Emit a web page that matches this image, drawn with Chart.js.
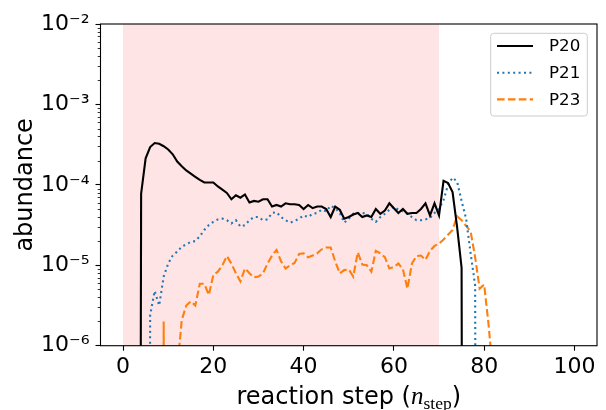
<!DOCTYPE html>
<html><head><meta charset="utf-8">
<script src="https://cdn.jsdelivr.net/npm/chart.js@4"></script>
<style>html,body{margin:0;padding:0;background:#fff;}canvas{display:block;}</style>
</head><body>
<canvas id="c" width="606" height="410"></canvas>
<script>
// ---------------- data ----------------
const STEPS = Array.from({length: 101}, (_, i) => i);
const P20 = [
  0, 0, 0, 0, 7.76e-5, 2.14e-4, 2.95e-4, 3.31e-4, 3.24e-4, 3.02e-4,
  2.75e-4, 2.40e-4, 1.95e-4, 1.70e-4, 1.51e-4, 1.38e-4, 1.26e-4, 1.15e-4, 1.07e-4, 1.07e-4,
  1.07e-4, 9.55e-5, 8.71e-5, 7.94e-5, 6.61e-5, 7.41e-5, 6.92e-5, 7.59e-5, 6.03e-5, 6.31e-5,
  6.17e-5, 6.61e-5, 6.61e-5, 5.37e-5, 5.62e-5, 5.37e-5, 5.89e-5, 5.75e-5, 5.75e-5, 5.62e-5,
  5.01e-5, 5.62e-5, 5.13e-5, 5.37e-5, 5.37e-5, 5.01e-5, 3.98e-5, 5.37e-5, 4.90e-5, 3.80e-5,
  3.98e-5, 4.27e-5, 4.47e-5, 3.98e-5, 4.17e-5, 3.98e-5, 5.01e-5, 4.37e-5, 4.79e-5, 5.89e-5,
  5.13e-5, 4.47e-5, 5.01e-5, 4.37e-5, 4.47e-5, 4.47e-5, 5.01e-5, 5.89e-5, 4.17e-5, 5.89e-5,
  4.17e-5, 1.12e-4, 1.05e-4, 8.13e-5, 3.00e-5, 9.33e-6, 0, 0, 0, 0,
  0, 0, 0, 0, 0, 0, 0, 0, 0, 0,
  0, 0, 0, 0, 0, 0, 0, 0, 0, 0, 0
];
const P21 = [
  0, 0, 0, 0, 0, 0, 2.40e-6, 4.79e-6, 3.16e-6, 7.24e-6,
  1.05e-5, 1.32e-5, 1.48e-5, 1.70e-5, 1.82e-5, 1.95e-5, 2.00e-5, 2.29e-5, 2.75e-5, 3.16e-5,
  3.47e-5, 3.72e-5, 3.80e-5, 3.63e-5, 3.31e-5, 3.63e-5, 3.02e-5, 3.16e-5, 3.63e-5, 3.98e-5,
  3.98e-5, 3.63e-5, 3.72e-5, 4.47e-5, 4.57e-5, 3.98e-5, 3.63e-5, 3.39e-5, 3.55e-5, 3.80e-5,
  4.17e-5, 3.98e-5, 4.37e-5, 4.47e-5, 4.90e-5, 4.68e-5, 5.50e-5, 5.13e-5, 4.47e-5, 3.39e-5,
  3.80e-5, 4.37e-5, 4.47e-5, 4.47e-5, 4.37e-5, 3.80e-5, 3.47e-5, 3.98e-5, 4.37e-5, 4.90e-5,
  5.37e-5, 4.90e-5, 4.68e-5, 4.37e-5, 3.98e-5, 3.63e-5, 3.63e-5, 3.72e-5, 3.89e-5, 4.47e-5,
  5.01e-5, 6.46e-5, 1.00e-4, 1.23e-4, 1.10e-4, 6.31e-5, 3.80e-5, 1.41e-5, 5.62e-6, 0,
  0, 0, 0, 0, 0, 0, 0, 0, 0, 0,
  0, 0, 0, 0, 0, 0, 0, 0, 0, 0, 0
];
const P23 = [
  0, 0, 0, 0, 0, 0, 0, 0, 0, 2.00e-6,
  0, 0, 5.01e-7, 2.09e-6, 3.16e-6, 3.55e-6, 3.16e-6, 5.89e-6, 5.89e-6, 4.27e-6,
  7.59e-6, 8.32e-6, 1.00e-5, 1.30e-5, 1.05e-5, 7.94e-6, 6.31e-6, 9.12e-6, 7.94e-6, 7.08e-6,
  7.24e-6, 7.94e-6, 1.05e-5, 1.32e-5, 1.55e-5, 1.12e-5, 9.12e-6, 1.00e-5, 1.07e-5, 1.38e-5,
  1.41e-5, 1.26e-5, 1.32e-5, 1.41e-5, 1.58e-5, 1.66e-5, 1.66e-5, 1.12e-5, 7.94e-6, 8.71e-6,
  8.91e-6, 7.24e-6, 1.45e-5, 1.02e-5, 1.00e-5, 8.32e-6, 1.51e-5, 1.41e-5, 1.26e-5, 9.12e-6,
  9.55e-6, 1.05e-5, 8.91e-6, 5.13e-6, 1.05e-5, 1.30e-5, 1.32e-5, 1.17e-5, 1.51e-5, 1.74e-5,
  1.86e-5, 2.09e-5, 2.40e-5, 2.75e-5, 4.07e-5, 3.63e-5, 3.09e-5, 2.63e-5, 1.26e-5, 5.13e-6,
  5.75e-6, 1.78e-6, 3.98e-7, 0, 0, 0, 0, 0, 0, 0,
  0, 0, 0, 0, 0, 0, 0, 0, 0, 0, 0
];
const SERIES_NAMES = ['P20', 'P21', 'P23'];
const X_TICKS = [0, 20, 40, 60, 80, 100];
const Y_TICKS = [1e-6, 1e-5, 1e-4, 1e-3, 1e-2];
const Y_TICK_LABELS = ['10\u207B\u2076', '10\u207B\u2075', '10\u207B\u2074', '10\u207B\u00B3', '10\u207B\u00B2'];
const Y_MINOR_MULTS = [2, 3, 4, 5, 6, 7, 8, 9];
const SHADE_RANGE = [0, 70];
const X_TITLE_PARTS = ['reaction step (', 'n', 'step', ')'];
const Y_TITLE = 'abundance';

// ---------------- styling ----------------
const SANS = "'DejaVu Sans', sans-serif";
const SERIF = "'Liberation Serif', 'DejaVu Serif', serif";
const CLIP_FLOOR = 1e-30; // non-positive values clipped far below axis (log scale)
const STYLES = [
  { color: '#000000', dash: [] },
  { color: '#1f77b4', dash: [2, 3.4] },
  { color: '#ff7f0e', dash: [7.6, 3.3] }
];
const SERIES = [P20, P21, P23];

Chart.defaults.font.family = SANS;
Chart.defaults.color = '#000';

const decor = {
  id: 'decor',
  beforeDatasetsDraw(chart) {
    const { ctx, chartArea: a, scales: { x } } = chart;
    const x0 = x.getPixelForValue(SHADE_RANGE[0]);
    const x1 = x.getPixelForValue(SHADE_RANGE[1]);
    ctx.save();
    ctx.fillStyle = 'rgb(254,228,228)';
    ctx.fillRect(x0, a.top, x1 - x0, a.bottom - a.top);
    ctx.restore();
  },
  afterDatasetsDraw(chart) {
    const { ctx, chartArea: a, scales: { y } } = chart;
    ctx.save();
    // frame
    ctx.strokeStyle = '#000';
    ctx.lineWidth = 1.1;
    ctx.strokeRect(a.left, a.top, a.right - a.left, a.bottom - a.top);
    // minor log ticks
    ctx.lineWidth = 0.8;
    ctx.beginPath();
    for (let d = 0; d < Y_TICKS.length - 1; d++) {
      for (const m of Y_MINOR_MULTS) {
        const py = Math.round(y.getPixelForValue(m * Y_TICKS[d])) + 0.5;
        ctx.moveTo(a.left - 2.8, py);
        ctx.lineTo(a.left, py);
      }
    }
    ctx.stroke();

    // x axis title with math subscript
    const fMain = '24px ' + SANS;
    const fIt = 'italic 25px ' + SERIF;
    const fSub = '17.5px ' + SERIF;
    const parts = [
      { t: X_TITLE_PARTS[0], f: fMain, dy: 0 },
      { t: X_TITLE_PARTS[1], f: fIt, dy: 0 },
      { t: X_TITLE_PARTS[2], f: fSub, dy: 5 },
      { t: X_TITLE_PARTS[3], f: fMain, dy: 0 }
    ];
    let total = 0;
    parts.forEach(p => { ctx.font = p.f; p.w = ctx.measureText(p.t).width; total += p.w; });
    let cx = (a.left + a.right) / 2 - total / 2;
    const base = 403.5;
    ctx.fillStyle = '#000';
    ctx.textBaseline = 'alphabetic';
    ctx.textAlign = 'left';
    parts.forEach(p => { ctx.font = p.f; ctx.fillText(p.t, cx, base + p.dy); cx += p.w; });

    // legend
    const lx = 490.7, ly = 33.3, lw = 96.6, lh = 82.7, r = 3;
    ctx.beginPath();
    ctx.moveTo(lx + r, ly);
    ctx.arcTo(lx + lw, ly, lx + lw, ly + lh, r);
    ctx.arcTo(lx + lw, ly + lh, lx, ly + lh, r);
    ctx.arcTo(lx, ly + lh, lx, ly, r);
    ctx.arcTo(lx, ly, lx + lw, ly, r);
    ctx.closePath();
    ctx.fillStyle = 'rgba(255,255,255,0.8)';
    ctx.fill();
    ctx.strokeStyle = '#cccccc';
    ctx.lineWidth = 1;
    ctx.stroke();
    chart.data.datasets.forEach((ds, i) => {
      const ry = 46 + i * 26.7;
      ctx.beginPath();
      ctx.setLineDash(ds.borderDash || []);
      ctx.strokeStyle = ds.borderColor;
      ctx.lineWidth = ds.borderWidth;
      ctx.moveTo(497, ry);
      ctx.lineTo(533, ry);
      ctx.stroke();
      ctx.setLineDash([]);
      ctx.font = '16.7px ' + SANS;
      ctx.fillStyle = '#000';
      ctx.textBaseline = 'middle';
      ctx.fillText(ds.label, 549, ry + 1);
    });
    ctx.restore();
  }
};

new Chart(document.getElementById('c'), {
  type: 'line',
  data: {
    datasets: SERIES.map((vals, i) => ({
      label: SERIES_NAMES[i],
      data: STEPS.map((s, j) => ({ x: s, y: vals[j] > 0 ? vals[j] : CLIP_FLOOR })),
      borderColor: STYLES[i].color,
      borderDash: STYLES[i].dash,
      borderWidth: 2.1,
      pointRadius: 0,
      tension: 0,
      fill: false,
      clip: 0
    }))
  },
  options: {
    responsive: false,
    animation: false,
    devicePixelRatio: 1,
    layout: { padding: { left: 0, top: 24, right: 9, bottom: 0 } },
    plugins: { legend: { display: false }, tooltip: { enabled: false } },
    scales: {
      x: {
        type: 'linear', min: -5, max: 105,
        afterBuildTicks: s => { s.ticks = X_TICKS.map(v => ({ value: v })); },
        afterFit: s => { s.height = 64.3; },
        grid: { drawOnChartArea: false, drawTicks: true, tickLength: 5, tickColor: '#000', tickWidth: 1.1 },
        border: { display: false },
        ticks: { font: { size: 22, family: SANS }, color: '#000', padding: 3, maxRotation: 0, autoSkip: false }
      },
      y: {
        type: 'logarithmic', min: 1e-6, max: 1e-2,
        afterBuildTicks: s => { s.ticks = Y_TICKS.map(v => ({ value: v, major: true })); },
        afterFit: s => { s.width = 100.5; },
        grid: { drawOnChartArea: false, drawTicks: true, tickLength: 5, tickColor: '#000', tickWidth: 1.1 },
        border: { display: false },
        ticks: {
          font: { size: 22, family: SANS }, color: '#000', padding: 6, autoSkip: false,
          callback: (v, i) => Y_TICK_LABELS[i]
        },
        title: { display: true, text: Y_TITLE, font: { size: 24, family: SANS }, color: '#000', padding: { top: 11, bottom: 0 } }
      }
    }
  },
  plugins: [decor]
});
</script>
</body></html>
